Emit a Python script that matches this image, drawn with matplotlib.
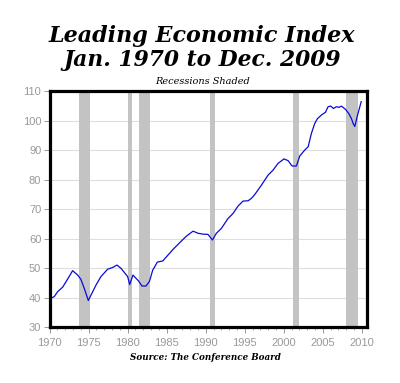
import matplotlib
matplotlib.use("Agg")
import matplotlib.pyplot as plt
from matplotlib.ticker import MultipleLocator

# Leading Economic Index
years = [1970.0, 1970.6, 1971.03, 1971.67, 1972.3, 1972.95, 1973.6, 1974.0, 1974.44, 1974.96,
         1975.3, 1975.94, 1976.58, 1977.44, 1978.08, 1978.63, 1979.15, 1979.66, 1980.0, 1980.26,
         1980.68, 1981.07, 1981.37, 1981.83, 1982.35, 1982.8, 1983.2, 1983.8, 1984.5, 1985.17,
         1985.81, 1986.67, 1987.52, 1988.38, 1989.0, 1989.64, 1990.3, 1990.86, 1991.37, 1992.0,
         1992.86, 1993.5, 1994.14, 1994.78, 1995.43, 1995.85, 1996.28, 1997.14, 1997.99, 1998.63,
         1999.27, 2000.04, 2000.56, 2001.06, 2001.62, 2002.05, 2002.69, 2003.12, 2003.55, 2003.97,
         2004.3, 2004.83, 2005.34, 2005.68, 2006.02, 2006.37, 2006.75, 2007.09, 2007.39, 2007.91,
         2008.33, 2008.67, 2008.89, 2009.1, 2009.4, 2009.92]
lei = [39.6, 40.3, 42.0, 43.5, 46.2, 49.1, 47.6, 46.2, 43.1, 39.0,
       40.8, 44.2, 47.1, 49.6, 50.2, 51.0, 49.9, 48.2, 47.1, 44.4,
       47.6, 46.5, 45.7, 43.9, 43.9, 45.5, 49.2, 52.0, 52.4, 54.4,
       56.3, 58.6, 60.8, 62.5, 61.8, 61.5, 61.4, 59.5, 61.8, 63.4,
       66.8, 68.5, 71.0, 72.7, 72.8, 73.6, 74.9, 78.1, 81.5, 83.2,
       85.5, 87.0, 86.4, 84.6, 84.6, 88.0, 90.0, 91.1, 95.7, 99.0,
       100.6, 101.9, 102.8, 104.7, 104.9, 104.1, 104.7, 104.5, 104.9, 103.8,
       102.4, 100.7, 99.0, 98.0, 101.3, 106.4]

# Recessions (start, end)
rec_start = [1973.83, 1980.0, 1981.5, 1990.5, 2001.17, 2007.92]
rec_end = [1975.2, 1980.55, 1982.9, 1991.2, 2001.9, 2009.5]

xticks = [1970, 1975, 1980, 1985, 1990, 1995, 2000, 2005, 2010]
yticks = [30, 40, 50, 60, 70, 80, 90, 100, 110]

fig = plt.figure(figsize=(4.0, 3.83), dpi=100)
ax = fig.add_axes([0.124, 0.1462, 0.793, 0.616])

for s, e in zip(rec_start, rec_end):
    ax.axvspan(s, e, color="#c3c3c3", lw=0, zorder=1)

ax.plot(years, lei, color="#0a0ad8", lw=0.9, zorder=3)

ax.set_xlim(1970, 2010.64)
ax.set_ylim(30, 110)
ax.set_yticks(yticks)
ax.set_xticks(xticks)
ax.xaxis.set_minor_locator(MultipleLocator(1))
ax.grid(axis="y", color="#dedede", lw=0.8, zorder=0)
ax.set_axisbelow(True)

for sp in ax.spines.values():
    sp.set_linewidth(2.3)
    sp.set_color("black")
    sp.set_zorder(5)

ax.tick_params(axis="both", which="major", direction="out", length=4, width=0.7,
               color="#999999", labelcolor="#999999", labelsize=8)
ax.tick_params(axis="x", which="major", pad=4)
ax.tick_params(axis="y", which="major", pad=2)
ax.tick_params(axis="x", which="minor", direction="out", length=2.5, width=0.6,
               color="#999999")
for lab in ax.get_xticklabels() + ax.get_yticklabels():
    lab.set_family("Liberation Sans")

fig.text(0.505, 0.89, "Leading Economic Index", ha="center", va="baseline",
         family="DejaVu Serif", style="italic", weight="bold", fontsize=16)
fig.text(0.505, 0.828, "Jan. 1970 to Dec. 2009", ha="center", va="baseline",
         family="DejaVu Serif", style="italic", weight="bold", fontsize=15.7)
fig.text(0.507, 0.788, "Recessions Shaded", ha="center", va="center",
         family="DejaVu Serif", style="italic", fontsize=7)
fig.text(0.513, 0.067, "Source: The Conference Board", ha="center", va="center",
         family="DejaVu Serif", style="italic", weight="bold", fontsize=6.3)

fig.savefig("out.png", dpi=100, facecolor="white")
